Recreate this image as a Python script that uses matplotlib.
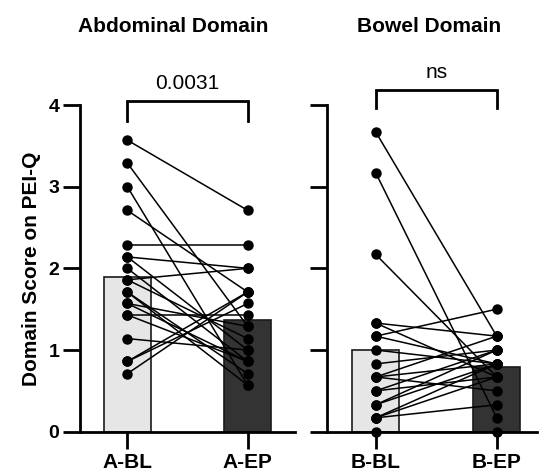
import matplotlib
matplotlib.use('Agg')
import matplotlib.pyplot as plt

plt.rcParams['font.family'] = ['Liberation Sans', 'DejaVu Sans']

# Abdominal domain: paired scores per patient (baseline, end point)
abd_groups = ['A-BL', 'A-EP']
abd_bl = [3.57, 3.29, 3.00, 2.71, 2.29, 2.14, 2.14, 2.00, 1.86, 1.86,
          1.71, 1.71, 1.57, 1.57, 1.43, 1.43, 1.14, 0.86, 0.86, 0.71]
abd_ep = [2.71, 1.29, 0.57, 1.71, 2.29, 2.00, 1.00, 0.86, 2.00, 1.14,
          0.57, 0.71, 0.86, 1.29, 1.43, 0.86, 1.00, 1.71, 1.57, 1.71]
abd_mean = [1.89, 1.37]
abd_p = '0.0031'

# Bowel domain
bowel_groups = ['B-BL', 'B-EP']
bowel_bl = [3.67, 3.17, 2.17, 1.33, 1.33, 1.17, 1.17, 1.00, 0.83, 0.67,
            0.67, 0.67, 0.50, 0.50, 0.33, 0.33, 0.17, 0.17, 0.17, 0.00]
bowel_ep = [1.17, 0.17, 0.67, 1.17, 0.67, 1.50, 0.83, 0.83, 1.00, 1.17,
            0.83, 0.50, 1.00, 0.67, 1.00, 0.83, 0.67, 0.83, 0.33, 0.00]
bowel_mean = [1.00, 0.79]
bowel_p = 'ns'

bar_colors = ['#e6e6e6', '#333333']


def draw_panel(ax, groups, bl, ep, means, p_text, bracket_y, show_labels):
    x = [0, 1]
    ax.bar(x, means, width=0.39, color=bar_colors, edgecolor='#1a1a1a',
           linewidth=1.2, zorder=1)
    for a, b in zip(bl, ep):
        ax.plot(x, [a, b], color='black', linewidth=1.1, zorder=2,
                marker='o', markersize=6.5, clip_on=False)

    # significance bracket
    lo, hi = bracket_y
    ax.plot([0, 0, 1, 1], [lo, hi, hi, lo], color='black', linewidth=2,
            clip_on=False, solid_joinstyle='miter')
    ax.text(0.5, hi + 0.1, p_text, ha='center', va='bottom', fontsize=15)

    ax.set_ylim(0, 4)
    ax.set_yticks([0, 1, 2, 3, 4])
    ax.set_xticks(x)
    ax.set_xticklabels(groups, fontsize=15, fontweight='bold')
    if show_labels:
        ax.set_yticklabels(['0', '1', '2', '3', '4'], fontsize=14, fontweight='bold')
    else:
        ax.set_yticklabels([])

    for side in ['top', 'right']:
        ax.spines[side].set_visible(False)
    for side in ['left', 'bottom']:
        ax.spines[side].set_linewidth(2)
    ax.tick_params(width=2, length=12, pad=3)


fig = plt.figure(figsize=(5.41, 4.71), dpi=100)

ax1 = fig.add_axes([80 / 541, 39.3 / 471, 215 / 541, 326.7 / 471])
ax1.set_xlim(-0.393, 1.393)
draw_panel(ax1, abd_groups, abd_bl, abd_ep, abd_mean, abd_p, (3.81, 4.05), True)
ax1.set_ylabel('Domain Score on PEI-Q', fontsize=15, fontweight='bold', labelpad=5)

ax2 = fig.add_axes([326.7 / 541, 39.3 / 471, 210 / 541, 326.7 / 471])
ax2.set_xlim(-0.405, 1.33)
draw_panel(ax2, bowel_groups, bowel_bl, bowel_ep, bowel_mean, bowel_p, (3.96, 4.18), False)

fig.text(173 / 541, 1 - 26 / 471, 'Abdominal Domain', ha='center', va='center',
         fontsize=15, fontweight='bold')
fig.text(429 / 541, 1 - 26 / 471, 'Bowel Domain', ha='center', va='center',
         fontsize=15, fontweight='bold')

fig.savefig('out.png', dpi=100)
